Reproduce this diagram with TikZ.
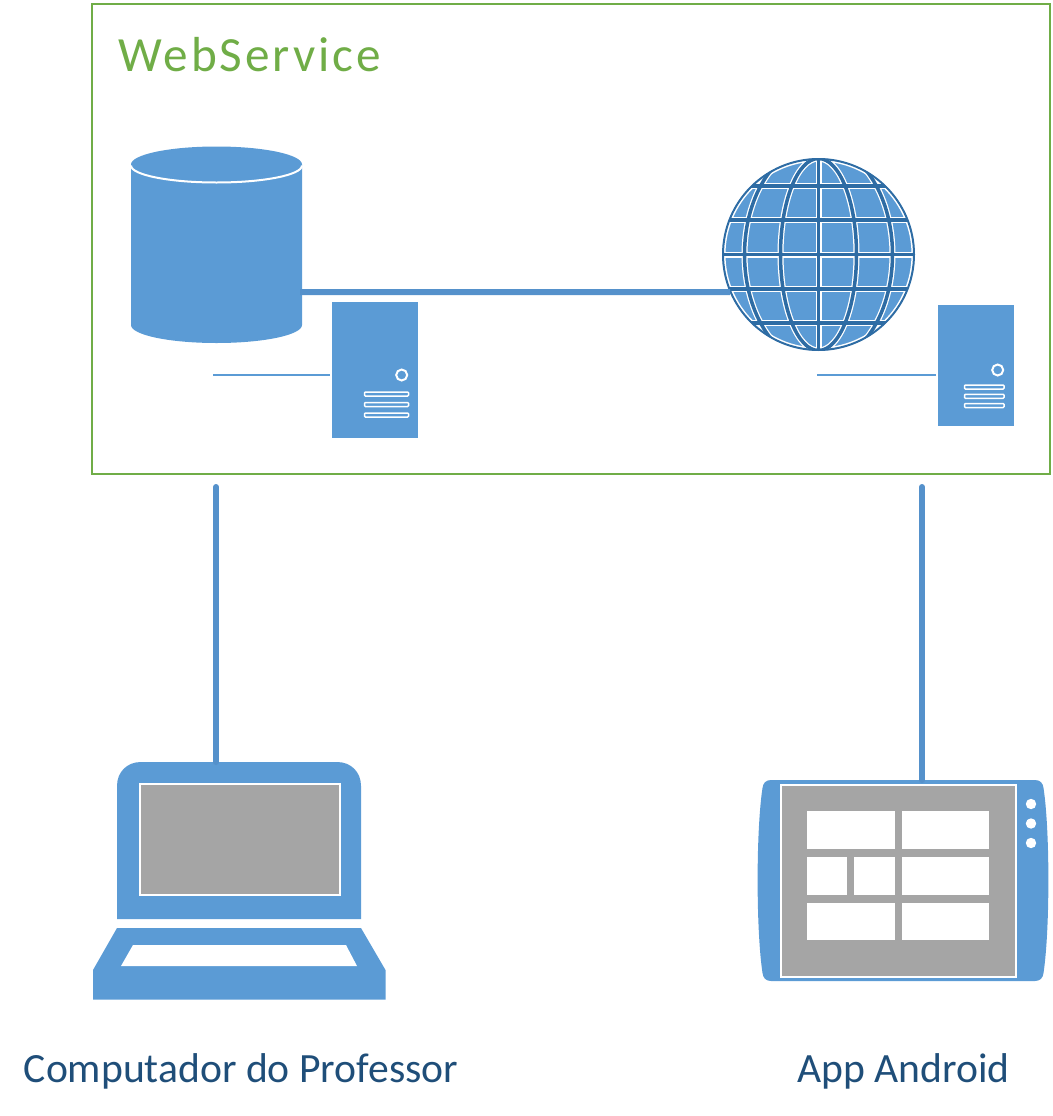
\documentclass[tikz,border=0pt]{standalone}
\usepackage{fontspec}
\setmainfont{Carlito}
\newfontfamily\titlefont[LetterSpace=6]{Carlito}
\usepackage{tikz}
\usetikzlibrary{calc}
\definecolor{myBlue}{RGB}{91,155,213}
\definecolor{myLink}{RGB}{85,145,203}
\definecolor{myDark}{RGB}{46,108,164}
\definecolor{myGreen}{RGB}{112,173,71}
\definecolor{myGray}{RGB}{165,165,165}
\definecolor{myText}{RGB}{31,78,121}
\tikzset{
	icon/.style={
		inner sep=0pt,
		outer sep=0pt
	},
	srvbox/.style={icon, fill=myBlue},
	slabel/.style={icon, anchor=base, text=myText, font=\fontsize{23.7}{28}\selectfont},
	larr/.style={line width=0.12cm, myLink},
	varr/.style={line width=0.12cm, myLink, line cap=round},
	tarr/.style={line width=0.04cm, myBlue},
	wline/.style={draw=white, line width=0.04cm},
	gwhite/.style={white, line width=0.12cm},
	gdark/.style={myDark, line width=0.07cm}
}

\begin{document}
\begin{tikzpicture}[x=0.02cm, y=-0.02cm]
		\useasboundingbox (0,0) rectangle (1053,1116);
		% web service frame
		\node[icon, draw=myGreen, line width=0.04cm, minimum width=19.16cm, minimum height=9.4cm] (ws) at (571,239) {};
		\node[icon, anchor=base, text=myGreen, font=\titlefont\fontsize{28}{32}\selectfont] (wstitle) at (250,71) {WebService};

		% database
		\node[icon, minimum width=3.42cm, minimum height=3.92cm] (db) at (216.5,245) {};
		\fill[myBlue] (131,164.5) -- (131,325) arc[start angle=180, end angle=360, x radius=85.5, y radius=-18]
			-- (302,164.5) arc[start angle=0, end angle=180, x radius=85.5, y radius=-18] -- cycle;
		\draw[wline] (131,165.5) arc[start angle=180, end angle=360, x radius=85.5, y radius=-17];

		% globe
		\node[icon, circle, fill=myBlue, minimum size=3.84cm] (globe) at (818.5,254.5) {};
		\begin{scope}
			\clip (818.5,254.5) circle[radius=96];
			\draw[white, line width=0.08cm] (818.5,254.5) circle[radius=95];
			\foreach \gy in {-68.5,-34.5,0,34.5,68.5} {
				\draw[gwhite] (722,254.5+\gy) -- (915,254.5+\gy);
			}
			\foreach \gx/\gr in {38/96,74/110} {
				\draw[gwhite] (818.5,254.5) ellipse[x radius=\gx, y radius=\gr];
			}
			\draw[gwhite] (818.5,158) -- (818.5,351);
			\foreach \gy in {-68.5,-34.5,0,34.5,68.5} {
				\draw[gdark] (722,254.5+\gy) -- (915,254.5+\gy);
			}
			\foreach \gx/\gr in {38/96,74/110} {
				\draw[gdark] (818.5,254.5) ellipse[x radius=\gx, y radius=\gr];
			}
			\draw[gdark] (818.5,158) -- (818.5,351);
		\end{scope}
		\draw[myDark, line width=0.04cm] (818.5,254.5) circle[radius=95.5];

		% servers
		\node[srvbox, minimum width=1.72cm, minimum height=2.72cm] (srvA) at (375,370) {};
		\draw[wline] (401.7,375) circle[radius=5.5];
		\foreach \by in {394,404.5,415} {
			\draw[wline, fill=myBlue, line width=0.03cm, rounded corners=0.5pt] (364.5,\by-2) rectangle (408.5,\by+2);
		}
		\node[srvbox, minimum width=1.52cm, minimum height=2.42cm] (srvB) at (976,365.5) {};
		\draw[wline] (997.7,370) circle[radius=5.5];
		\foreach \by in {387,396.3,405.5} {
			\draw[wline, fill=myBlue, line width=0.03cm, rounded corners=0.5pt] (964.5,\by-2) rectangle (1004,\by+2);
		}

		% laptop
		\node[icon, minimum width=5.84cm, minimum height=4.74cm] (laptop) at (239,880.5) {};
		\fill[myBlue] (117,919) -- (117,786) .. controls (117,772) and (127,762) .. (141,762)
			-- (337,762) .. controls (351,762) and (361,772) .. (361,786) -- (361,919) -- cycle;
		\draw[wline, fill=myGray] (139.5,783.5) rectangle (339.5,895);
		\fill[myBlue] (117,928) -- (361,928) -- (385.5,970) -- (385.5,999.5) -- (93,999.5) -- (93,970) -- cycle;
		\fill[white] (133,945) -- (346,945) -- (357,966) -- (121,966) -- cycle;

		% tablet
		\node[icon, minimum width=5.84cm, minimum height=4.02cm] (tablet) at (903,880.5) {};
		\fill[myBlue] (771,780) -- (1035,780) .. controls (1040,780) and (1043,783) .. (1043.5,788)
			.. controls (1050,830) and (1050,930) .. (1043.5,973) .. controls (1043,978) and (1040,981) .. (1035,981)
			-- (771,981) .. controls (766,981) and (763,978) .. (762.5,973)
			.. controls (756,930) and (756,830) .. (762.5,788) .. controls (763,783) and (766,780) .. (771,780) -- cycle;
		\draw[wline, fill=myGray] (780.5,785) rectangle (1016,977);
		\foreach \tx/\ty/\tw in {807/811/87.5, 902/811/87, 807/857/40, 854/857/40.5, 902/857/87, 807/902.7/87.5, 902/902.7/87} {
			\fill[white] (\tx,\ty) rectangle (\tx+\tw,\ty+37.7);
		}
		\foreach \dy in {804,823.5,843} {
			\fill[white] (1031,\dy) circle[radius=5.2];
		}

		% captions
		\node[slabel] (lapcap) at (241,1082) {Computador do Professor};
		\node[slabel] (tabcap) at (903.5,1082) {App Android};

		% connectors
		\coordinate (dbport) at (300,292);
		\coordinate (dbtap) at (213,375);
		\coordinate (globetap) at (817,375);
		\coordinate (lapend) at (216,487);
		\coordinate (tabend) at (922,487);
		\draw[larr] (dbport) -- (globe.203.3);
		\draw[tarr] (dbtap) -- ($(dbtap -| srvA.west)+(-2,0)$);
		\draw[tarr] (globetap) -- ($(globetap -| srvB.west)+(-2,0)$);
		\draw[varr] (lapend) -- (lapend |- laptop.north);
		\draw[varr] (tabend) -- (tabend |- tablet.north);
	\end{tikzpicture}
\end{document}
